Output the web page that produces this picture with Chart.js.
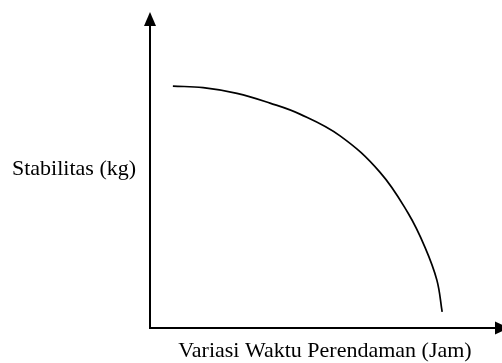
<!DOCTYPE html>
<html>
<head>
<meta charset="utf-8">
<script src="https://cdn.jsdelivr.net/npm/chart.js@4"></script>
<style>
html,body{margin:0;padding:0;background:#fff;}
#wrap{width:502px;height:363px;position:relative;}
</style>
</head>
<body>
<div id="wrap"><canvas id="c"></canvas></div>
<script>
// Curve (arbitrary units, no tick values shown)
const waktu = [0.65, 1.51, 2.47, 3.41, 4.26, 5.40, 6.53, 7.33, 7.81, 8.15, 8.30];
const stabilitas = [7.68, 7.63, 7.45, 7.14, 6.79, 6.10, 4.95, 3.65, 2.57, 1.52, 0.51];
const xTitle = 'Variasi Waktu Perendaman (Jam)';
const yTitle = 'Stabilitas (kg)';

const points = waktu.map((x, i) => ({x: x, y: stabilitas[i]}));

const axesPlugin = {
  id: 'arrowAxes',
  afterDatasetsDraw(chart) {
    const ctx = chart.ctx;
    const xs = chart.scales.x, ys = chart.scales.y;
    const ox = xs.getPixelForValue(0), oy = ys.getPixelForValue(0);
    const topY = ys.getPixelForValue(10);
    const rightX = xs.getPixelForValue(10);
    ctx.save();
    ctx.strokeStyle = '#000';
    ctx.fillStyle = '#000';
    ctx.lineWidth = 2;
    ctx.lineCap = 'butt';
    // y axis
    ctx.beginPath();
    ctx.moveTo(ox, oy + 1);
    ctx.lineTo(ox, topY + 10);
    ctx.stroke();
    // x axis
    ctx.beginPath();
    ctx.moveTo(ox - 1, oy);
    ctx.lineTo(rightX - 4, oy);
    ctx.stroke();
    // y arrow head
    ctx.beginPath();
    ctx.moveTo(ox, topY - 1);
    ctx.lineTo(ox - 6, topY + 13);
    ctx.lineTo(ox + 6, topY + 13);
    ctx.closePath();
    ctx.fill();
    // x arrow head
    ctx.beginPath();
    ctx.moveTo(rightX + 7, oy);
    ctx.lineTo(rightX - 7, oy - 6.5);
    ctx.lineTo(rightX - 7, oy + 6.5);
    ctx.closePath();
    ctx.fill();
    // titles
    ctx.font = '22px "Liberation Serif", "Times New Roman", serif';
    ctx.textBaseline = 'middle';
    ctx.textAlign = 'left';
    ctx.fillText(yTitle, 12, 169);
    ctx.textAlign = 'center';
    ctx.textBaseline = 'alphabetic';
    ctx.fillText(xTitle, 325, 357);
    ctx.restore();
  }
};

new Chart(document.getElementById('c'), {
  type: 'line',
  data: {
    datasets: [{
      data: points,
      borderColor: '#000',
      borderWidth: 1.7,
      pointRadius: 0,
      fill: false,
      tension: 0.4
    }]
  },
  options: {
    responsive: true,
    maintainAspectRatio: false,
    animation: false,
    layout: { padding: { left: 150, right: 0, top: 13, bottom: 35 } },
    plugins: { legend: { display: false }, tooltip: { enabled: false } },
    scales: {
      x: { type: 'linear', min: 0, max: 10, display: false },
      y: { type: 'linear', min: 0, max: 10, display: false }
    }
  },
  plugins: [axesPlugin]
});
</script>
</body>
</html>
